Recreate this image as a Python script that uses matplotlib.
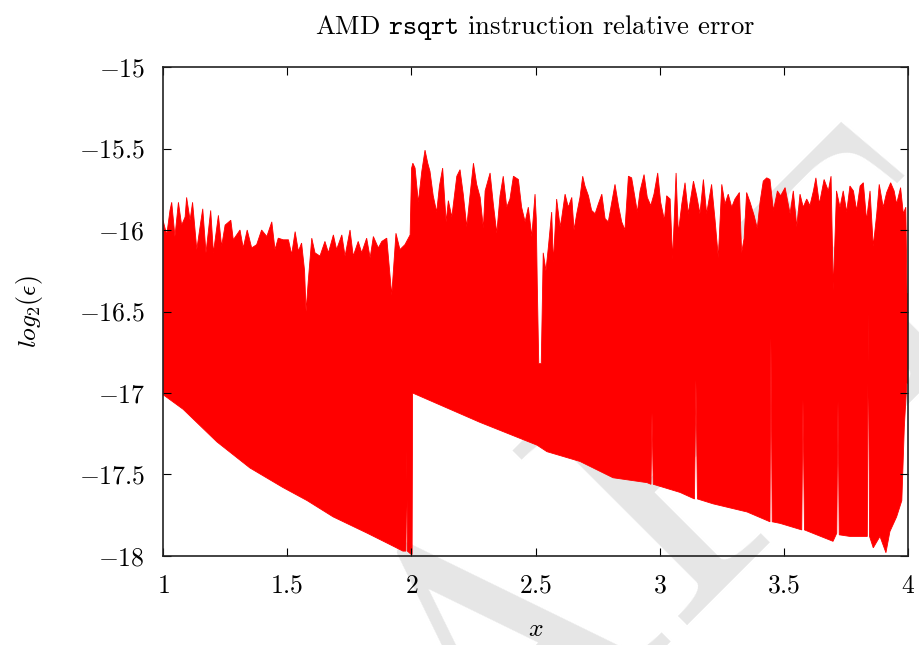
import numpy as np
import matplotlib
matplotlib.use('Agg')
import matplotlib.pyplot as plt
from matplotlib.ticker import FuncFormatter

plt.rcParams['font.family'] = 'serif'
plt.rcParams['font.serif'] = ['cmr10']
plt.rcParams['mathtext.fontset'] = 'cm'
plt.rcParams['axes.unicode_minus'] = False

# upper edge of the error band (peaks / troughs)
upper_x = [1.000, 1.015, 1.028, 1.035, 1.048, 1.062, 1.075, 1.089, 1.095, 1.109,
           1.119, 1.136, 1.152, 1.160, 1.173, 1.192, 1.203, 1.223, 1.236, 1.250,
           1.273, 1.283, 1.310, 1.323, 1.339, 1.357, 1.377, 1.397, 1.418, 1.438,
           1.451, 1.464, 1.484, 1.505, 1.518, 1.532, 1.545, 1.558, 1.570, 1.576,
           1.585, 1.599, 1.612, 1.632, 1.652, 1.666, 1.686, 1.699, 1.720, 1.733,
           1.753, 1.766, 1.786, 1.800, 1.820, 1.834, 1.847, 1.867, 1.881, 1.901,
           1.921, 1.938, 1.954, 1.974, 1.995, 2.001, 2.006, 2.015, 2.028, 2.042,
           2.055, 2.066, 2.075, 2.088, 2.102, 2.113, 2.126, 2.140, 2.149, 2.163,
           2.183, 2.196, 2.209, 2.223, 2.236, 2.250, 2.263, 2.277, 2.290, 2.297,
           2.317, 2.330, 2.344, 2.357, 2.370, 2.384, 2.397, 2.411, 2.431, 2.444,
           2.458, 2.471, 2.485, 2.498, 2.503, 2.507, 2.513, 2.523, 2.531, 2.542,
           2.552, 2.565, 2.572, 2.585, 2.599, 2.605, 2.619, 2.632, 2.646, 2.655,
           2.666, 2.679, 2.690, 2.699, 2.713, 2.726, 2.740, 2.753, 2.767, 2.780,
           2.793, 2.807, 2.820, 2.834, 2.847, 2.860, 2.874, 2.887, 2.897, 2.910,
           2.921, 2.937, 2.950, 2.964, 2.977, 2.992, 3.004, 3.019, 3.028, 3.042,
           3.052, 3.066, 3.075, 3.089, 3.102, 3.115, 3.136, 3.149, 3.162, 3.176,
           3.189, 3.209, 3.223, 3.236, 3.250, 3.263, 3.276, 3.290, 3.303, 3.321,
           3.330, 3.340, 3.350, 3.364, 3.380, 3.393, 3.404, 3.417, 3.431, 3.444,
           3.458, 3.474, 3.487, 3.505, 3.525, 3.538, 3.552, 3.565, 3.578, 3.592,
           3.605, 3.619, 3.629, 3.643, 3.662, 3.679, 3.690, 3.699, 3.712, 3.726,
           3.739, 3.753, 3.766, 3.780, 3.793, 3.807, 3.820, 3.833, 3.847, 3.860,
           3.874, 3.884, 3.900, 3.914, 3.930, 3.944, 3.954, 3.970, 3.981, 3.991,
           3.996, 4.000]
upper_y = [-15.94, -16.03, -15.88, -15.83, -16.04, -15.83, -15.97, -15.92, -15.80, -15.94,
           -15.83, -16.12, -15.95, -15.87, -16.14, -15.88, -16.14, -15.91, -16.10, -15.97,
           -15.94, -16.06, -16.00, -16.11, -16.00, -16.11, -16.09, -16.00, -16.04, -15.95,
           -16.12, -16.05, -16.06, -16.06, -16.15, -16.01, -16.13, -16.08, -16.25, -16.50,
           -16.31, -16.05, -16.14, -16.16, -16.07, -16.14, -16.03, -16.12, -16.03, -16.16,
           -16.00, -16.16, -16.07, -16.14, -16.05, -16.17, -16.04, -16.11, -16.07, -16.05,
           -16.40, -16.02, -16.12, -16.09, -16.03, -15.62, -15.59, -15.62, -15.83, -15.64,
           -15.51, -15.59, -15.64, -15.79, -15.89, -15.73, -15.62, -15.95, -15.82, -15.92,
           -15.67, -15.63, -15.78, -15.98, -15.79, -15.59, -15.72, -15.80, -15.99, -15.76,
           -15.65, -15.84, -16.02, -15.79, -15.67, -15.86, -15.81, -15.67, -15.69, -15.86,
           -15.95, -15.86, -16.04, -15.78, -15.93, -16.33, -16.82, -16.82, -16.14, -16.25,
           -16.10, -15.89, -16.20, -15.81, -15.98, -15.93, -15.78, -15.86, -15.80, -16.00,
           -15.90, -15.80, -15.67, -15.73, -15.79, -15.88, -15.90, -15.84, -15.78, -15.93,
           -15.95, -15.83, -15.72, -15.85, -15.95, -16.00, -15.67, -15.68, -15.77, -15.89,
           -15.76, -15.66, -15.80, -15.85, -15.78, -15.65, -15.83, -15.94, -15.79, -15.81,
           -16.18, -15.65, -16.02, -15.84, -15.71, -15.90, -15.70, -15.79, -15.90, -15.69,
           -15.90, -15.72, -15.94, -16.17, -15.72, -15.84, -15.78, -15.86, -15.81, -15.77,
           -16.14, -16.05, -15.77, -15.83, -15.91, -15.99, -15.83, -15.70, -15.68, -15.69,
           -15.88, -15.76, -15.79, -15.74, -15.90, -15.76, -15.98, -15.78, -15.86, -15.81,
           -15.85, -15.76, -15.68, -15.84, -15.69, -15.76, -15.67, -16.37, -15.76, -15.86,
           -15.76, -15.89, -15.73, -15.76, -15.88, -15.73, -15.71, -15.94, -15.76, -16.10,
           -15.90, -15.72, -15.86, -15.77, -15.71, -15.76, -15.84, -15.74, -15.90, -15.86,
           -16.39, -16.39]

# lower edge of the error band
lower_x = [1.000, 1.081, 1.217, 1.350, 1.483, 1.580, 1.685, 1.822, 1.914, 1.966,
           1.978, 1.981, 1.984, 1.999, 2.003, 2.005, 2.276, 2.506, 2.546, 2.679,
           2.812, 2.949, 2.965, 2.969, 2.974, 3.082, 3.140, 3.146, 3.152, 3.215,
           3.352, 3.444, 3.448, 3.453, 3.485, 3.572, 3.577, 3.583, 3.632, 3.698,
           3.713, 3.718, 3.723, 3.766, 3.836, 3.840, 3.845, 3.860, 3.887, 3.911,
           3.927, 3.954, 3.975, 3.985, 3.995, 4.000]
lower_y = [-17.01, -17.10, -17.30, -17.46, -17.58, -17.66, -17.76, -17.86, -17.93, -17.97,
           -17.97, -17.35, -17.97, -17.99, -17.99, -17.00, -17.18, -17.32, -17.36, -17.42,
           -17.52, -17.55, -17.56, -17.12, -17.56, -17.61, -17.65, -16.92, -17.65, -17.68,
           -17.73, -17.79, -16.66, -17.79, -17.80, -17.84, -17.04, -17.84, -17.87, -17.91,
           -17.86, -17.05, -17.87, -17.88, -17.88, -16.51, -17.88, -17.95, -17.88, -17.98,
           -17.85, -17.76, -17.66, -17.21, -16.94, -16.94]

x_ticks = [1, 1.5, 2, 2.5, 3, 3.5, 4]
y_ticks = [-18, -17.5, -17, -16.5, -16, -15.5, -15]

fig = plt.figure(figsize=(9.2, 6.45), dpi=100)

# DRAFT watermark behind everything
fig.text(565 / 920, 1 - 736 / 645, 'DRAFT', rotation=45, rotation_mode='anchor',
         ha='center', va='baseline', fontsize=260, color='#e6e6e6',
         family='cmr10', zorder=-1)

ax = fig.add_axes([0.1772, 0.1380, 0.8098, 0.7581])
ax.patch.set_alpha(0)

poly_x = np.concatenate([upper_x, lower_x[::-1]])
poly_y = np.concatenate([upper_y, lower_y[::-1]])
ax.fill(poly_x, poly_y, color='#ff0000', lw=0.6)

ax.set_xlim(1, 4)
ax.set_ylim(-18, -15)
ax.set_xticks(x_ticks)
ax.set_yticks(y_ticks)
fmt = FuncFormatter(lambda v, p: r'$%g$' % v)
ax.xaxis.set_major_formatter(fmt)
ax.yaxis.set_major_formatter(fmt)
ax.tick_params(direction='in', length=6, width=0.8, top=True, right=True,
               labelsize=18.5, pad=13)
for s in ax.spines.values():
    s.set_linewidth(1.2)
    s.set_color('#222222')

ax.set_title(r'AMD $\mathtt{rsqrt}$ instruction relative error', fontsize=19.2, pad=24)
ax.set_xlabel(r'$x$', fontsize=18.5, labelpad=14)
ax.set_ylabel(r'$log_2(\epsilon)$', fontsize=18.5, labelpad=24)

fig.savefig('out.png', dpi=100)
